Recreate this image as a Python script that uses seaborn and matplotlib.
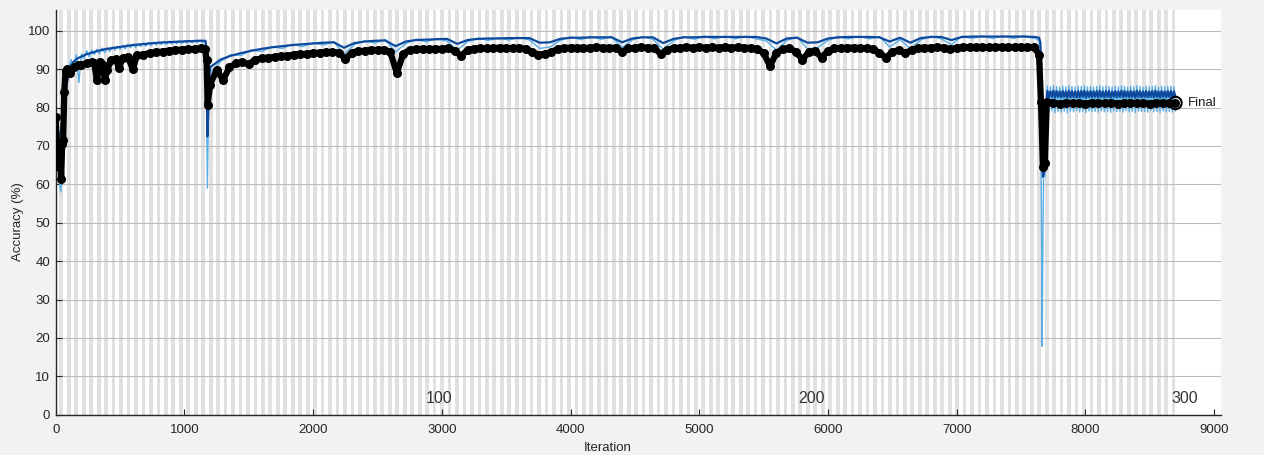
import numpy as np
import pandas as pd
import matplotlib
matplotlib.use("Agg")
import matplotlib.pyplot as plt
import seaborn as sns

# run layout (epochs are shaded as alternating bands)
iters_per_epoch = 29
n_epochs = 300
epoch_labels = [100, 200, 300]

# ---- training accuracy, first run (every 20 iterations from 0) ----
p1_start, p1_step = 0, 20
p1_raw = [77, 62, 58, 76, 86, 90.5, 92.5, 90, 93.8, 86.5,
          94, 92.8, 94.8, 93.2, 95, 93.8, 95.2, 94, 95.5, 94.3,
          95.6, 94.6, 95.8, 95, 96, 95.2, 96.2, 95.3, 96.4, 95.6,
          96.5, 95.7, 96.6, 95.9, 96.8, 96, 96.9, 96.2, 97, 96.3,
          97.1, 96.4, 97.2, 96.5, 97.3, 96.6, 97.3, 96.6, 97.4, 96.7,
          97.4, 96.8, 97.5, 96.8, 97.5, 96.9, 97.6, 96.9, 97.5]
p1_smooth = [70, 72, 74, 79, 85, 89, 91, 92, 92.6, 93,
             93.3, 93.6, 93.9, 94.1, 94.3, 94.5, 94.7, 94.9, 95.0, 95.2,
             95.3, 95.4, 95.5, 95.6, 95.7, 95.8, 95.9, 96.0, 96.1, 96.2,
             96.3, 96.35, 96.4, 96.5, 96.55, 96.6, 96.7, 96.75, 96.8, 96.85,
             96.9, 96.95, 97.0, 97.0, 97.05, 97.1, 97.1, 97.15, 97.2, 97.2,
             97.25, 97.3, 97.3, 97.3, 97.35, 97.4, 97.4, 97.4, 97.4]

# collapse around iteration 1175
drop1_iter = [1165, 1172, 1178, 1185, 1192]
drop1_raw = [96.8, 80, 59, 75, 87]
drop1_smooth = [97.3, 90, 72.5, 79, 88]

# ---- second run (every 80 iterations from 1200) ----
p2_start, p2_step = 1200, 80
p2_raw = [89.0, 92.0, 93.8, 93.6, 95.0, 94.6, 95.9, 95.4, 96.5, 95.9,
          96.9, 96.3, 97.2, 94.0, 96.4, 97.4, 96.8, 97.7, 94.5, 96.7,
          97.8, 97.1, 98.0, 97.3, 95.0, 97.2, 98.1, 97.5, 98.2, 97.6,
          98.3, 97.6, 95.4, 95.8, 97.5, 98.4, 97.7, 98.5, 97.8, 98.5,
          95.6, 97.6, 98.5, 97.8, 95.2, 97.4, 98.5, 97.8, 98.6, 97.9,
          98.6, 97.9, 98.6, 97.9, 97.4, 95.0, 97.5, 98.4, 95.3, 95.6,
          97.5, 98.5, 97.9, 98.6, 97.9, 98.5, 95.8, 97.7, 95.4, 97.6,
          98.6, 97.9, 96.4, 98.6, 98.0, 98.7, 98.0, 98.7, 98.0, 98.7,
          98.0]
p2_smooth = [90.5, 92.5, 93.5, 94.2, 94.8, 95.3, 95.7, 96.0, 96.3, 96.5,
             96.7, 96.9, 97.0, 95.6, 96.8, 97.2, 97.4, 97.5, 96.0, 97.2,
             97.6, 97.7, 97.8, 97.9, 96.6, 97.6, 97.9, 98.0, 98.0, 98.1,
             98.1, 98.1, 96.9, 97.0, 97.9, 98.2, 98.2, 98.3, 98.3, 98.3,
             97.0, 98.0, 98.3, 98.3, 96.8, 97.9, 98.3, 98.3, 98.4, 98.4,
             98.4, 98.4, 98.4, 98.4, 98.0, 96.7, 98.0, 98.2, 96.9, 97.0,
             98.0, 98.3, 98.4, 98.4, 98.4, 98.3, 97.2, 98.2, 96.9, 98.1,
             98.4, 98.4, 97.6, 98.4, 98.5, 98.5, 98.5, 98.5, 98.5, 98.5,
             98.4]

# collapse around iteration 7665
drop2_iter = [7610, 7625, 7640, 7650, 7658, 7664, 7670, 7678, 7686, 7695]
drop2_raw = [98.3, 97.6, 97.8, 92, 55, 17.8, 45, 70, 62, 80]
drop2_smooth = [98.4, 98.3, 98.2, 97, 90, 72, 62, 63, 70, 80]

# ---- last stretch (every 12 iterations from 7704) ----
p3_start, p3_step = 7704, 12
p3_raw = [85.6, 78.9, 85.4, 79.2, 85.7, 78.7, 85.5, 79.0, 85.3, 78.8,
          85.6, 79.1, 85.4, 78.6, 85.7, 79.0, 85.5, 78.9, 85.3, 79.2,
          85.6, 78.8, 85.5, 79.0, 85.7, 78.7, 85.4, 79.1, 85.6, 78.9,
          85.3, 79.0, 85.5, 78.8, 85.7, 79.2, 85.4, 78.9, 85.6, 79.0,
          85.5, 78.7, 85.3, 79.1, 85.6, 78.9, 85.4, 79.0, 85.7, 78.8,
          85.5, 79.2, 85.3, 78.9, 85.6, 79.0, 85.4, 78.7, 85.7, 79.1,
          85.5, 78.9, 85.3, 79.0, 85.6, 78.8, 85.4, 79.2, 85.5, 78.9,
          85.7, 79.0, 85.3, 78.7, 85.6, 79.1, 85.4, 78.9, 85.5, 79.0,
          85.6, 78.8, 85.4, 79.1]
p3_smooth = [84.3, 82.7, 84.2, 82.8, 84.4, 82.6, 84.3, 82.8, 84.2, 82.7,
             84.3, 82.8, 84.2, 82.6, 84.4, 82.7, 84.3, 82.8, 84.2, 82.7,
             84.3, 82.7, 84.3, 82.8, 84.4, 82.6, 84.2, 82.8, 84.3, 82.7,
             84.2, 82.8, 84.3, 82.7, 84.4, 82.8, 84.2, 82.7, 84.3, 82.8,
             84.3, 82.6, 84.2, 82.8, 84.3, 82.7, 84.2, 82.8, 84.4, 82.7,
             84.3, 82.8, 84.2, 82.7, 84.3, 82.8, 84.2, 82.6, 84.4, 82.8,
             84.3, 82.7, 84.2, 82.8, 84.3, 82.7, 84.2, 82.8, 84.3, 82.7,
             84.4, 82.8, 84.2, 82.6, 84.3, 82.8, 84.2, 82.7, 84.3, 82.8,
             84.3, 82.7, 84.2, 82.8]

# ---- validation accuracy ----
val1_iter = [0, 12, 22, 32, 42, 50, 58, 66, 76, 90, 110, 140, 170, 200, 240,
             280, 300, 319, 345, 365, 381, 400, 430, 470, 490, 520, 560, 599,
             630, 680, 730, 780, 830, 880, 930, 980, 1030, 1080, 1130, 1160,
             1172, 1180]
val1_acc = [77.5, 65.3, 64.5, 71, 61.5, 70.5, 71.5, 84, 89.5, 90, 89, 90.5,
            91, 91.2, 91.5, 91.8, 91.5, 87.2, 92, 91, 87.2, 89.8, 92.3, 92.6,
            90.3, 92.8, 93.2, 90, 93.6, 93.8, 94.2, 94.4, 94.6, 94.8, 95,
            95.1, 95.2, 95.3, 95.4, 95.3, 92.4, 80.8]

val2_start, val2_step = 1200, 50
val2_acc = [86, 89.8, 87.2, 90.5, 91.5, 91.8, 91.3, 92.5, 92.8, 93,
            93.2, 93.4, 93.5, 93.8, 93.9, 94, 94.2, 94.3, 94.4, 94.5,
            94.3, 92.7, 94.3, 94.7, 94.8, 95, 95, 95.1, 94.4, 89,
            94, 95, 95.2, 95.3, 95.2, 95.3, 95.3, 95.4, 94.8, 93.5,
            95, 95.3, 95.5, 95.4, 95.5, 95.6, 95.5, 95.5, 95.6, 95.3,
            94.5, 93.8, 94, 94.4, 95.3, 95.5, 95.6, 95.6, 95.5, 95.6,
            95.7, 95.6, 95.5, 95.6, 94.6, 95.4, 95.6, 95.7, 95.6, 95.5,
            94, 95, 95.5, 95.6, 95.7, 95.6, 95.7, 95.6, 95.7, 95.6,
            95.7, 95.6, 95.7, 95.6, 95.5, 95.3, 94.2, 90.8, 94.3, 95.2,
            95.4, 94.6, 92.5, 94.4, 94.8, 93, 94.8, 95.4, 95.5, 95.6,
            95.6, 95.5, 95.5, 95.2, 94.3, 93, 94.5, 95, 94.2, 95,
            95.4, 95.6, 95.6, 95.7, 95.6, 95.2, 95.6, 95.7, 95.8, 95.7,
            95.8, 95.7, 95.8, 95.8, 95.7, 95.8, 95.8, 95.7, 95.8]

val_drop_iter = [7640, 7655, 7670, 7685, 7700]
val_drop_acc = [93.8, 81.5, 64.5, 65.5, 81.5]

val3_start, val3_step = 7750, 50
val3_acc = [81.2, 81.0, 81.3, 81.1, 81.2, 81.0, 81.3, 81.2, 81.1, 81.3,
            81.0, 81.2, 81.3, 81.1, 81.2, 81.0, 81.3, 81.2, 81.1, 81.2]

final_iter, final_acc = 8700, 81.2


def grid(start, step, values):
    return start + step * np.arange(len(values))


train = pd.DataFrame({
    "Iteration": np.concatenate([grid(p1_start, p1_step, p1_raw), drop1_iter,
                                 grid(p2_start, p2_step, p2_raw), drop2_iter,
                                 grid(p3_start, p3_step, p3_raw)]),
    "Accuracy": np.concatenate([p1_raw, drop1_raw, p2_raw, drop2_raw, p3_raw]),
})
smooth = pd.DataFrame({
    "Iteration": np.concatenate([grid(p1_start, p1_step, p1_smooth), drop1_iter,
                                 grid(p2_start, p2_step, p2_smooth), drop2_iter,
                                 grid(p3_start, p3_step, p3_smooth)]),
    "Accuracy": np.concatenate([p1_smooth, drop1_smooth, p2_smooth,
                                drop2_smooth, p3_smooth]),
})
val = pd.DataFrame({
    "Iteration": np.concatenate([val1_iter, grid(val2_start, val2_step, val2_acc),
                                 val_drop_iter, grid(val3_start, val3_step, val3_acc)]),
    "Accuracy": np.concatenate([val1_acc, val2_acc, val_drop_acc, val3_acc]),
})

sns.set_theme(style="white")
plt.rcParams["font.family"] = ["Liberation Sans", "DejaVu Sans"]

fig = plt.figure(figsize=(12.64, 4.55), dpi=100, facecolor="#f2f2f2")
ax = fig.add_axes([0.0441, 0.0886, 0.9217, 0.8884])
ax.set_facecolor("white")

# epoch shading
for e in range(1, n_epochs, 2):
    ax.axvspan(e * iters_per_epoch, (e + 1) * iters_per_epoch,
               color="#e1e1e1", lw=0, zorder=0)

ax.set_xlim(0, 9052)
ax.set_ylim(0, 105.3)
ax.set_xticks(range(0, 9001, 1000))
ax.set_yticks(range(0, 101, 10))
ax.yaxis.grid(True, color="#bcbcbc", lw=0.8)
ax.xaxis.grid(False)
ax.set_axisbelow(True)

sns.lineplot(data=train, x="Iteration", y="Accuracy", ax=ax, sort=False,
             estimator=None, color="#5aaee6", lw=1.0, zorder=2)
sns.lineplot(data=smooth, x="Iteration", y="Accuracy", ax=ax, sort=False,
             estimator=None, color="#0d4a9e", lw=1.6, zorder=3)
sns.lineplot(data=val, x="Iteration", y="Accuracy", ax=ax, sort=False,
             estimator=None, color="black", lw=4.5, marker="o", markersize=6.5,
             markeredgewidth=0, zorder=4)
ax.scatter([final_iter], [final_acc], s=80, facecolors="none",
           edgecolors="black", linewidths=1.5, zorder=5)
ax.text(final_iter + 100, final_acc, "Final", fontsize=9.5, va="center",
        ha="left", color="#1a1a1a")

for ep in epoch_labels:
    ax.text((ep - 1) * iters_per_epoch, 2.3, str(ep), fontsize=11.5,
            ha="left", va="bottom", color="#333333")

for side in ["top", "right"]:
    ax.spines[side].set_visible(False)
for side in ["left", "bottom"]:
    ax.spines[side].set_color("#262626")
    ax.spines[side].set_linewidth(1.0)

ax.tick_params(direction="in", length=4, width=0.8, labelsize=9.5,
               colors="#262626", left=True, bottom=True)
ax.tick_params(axis="x", pad=7)
ax.tick_params(axis="y", pad=4)

ax.set_xlabel("Iteration", fontsize=9.5, color="#262626")
ax.set_ylabel("Accuracy (%)", fontsize=9.5, color="#262626")
ax.xaxis.set_label_coords(0.474, -0.068)
ax.yaxis.set_label_coords(-0.027, 0.477)

fig.savefig("out.png", dpi=100, facecolor=fig.get_facecolor())
